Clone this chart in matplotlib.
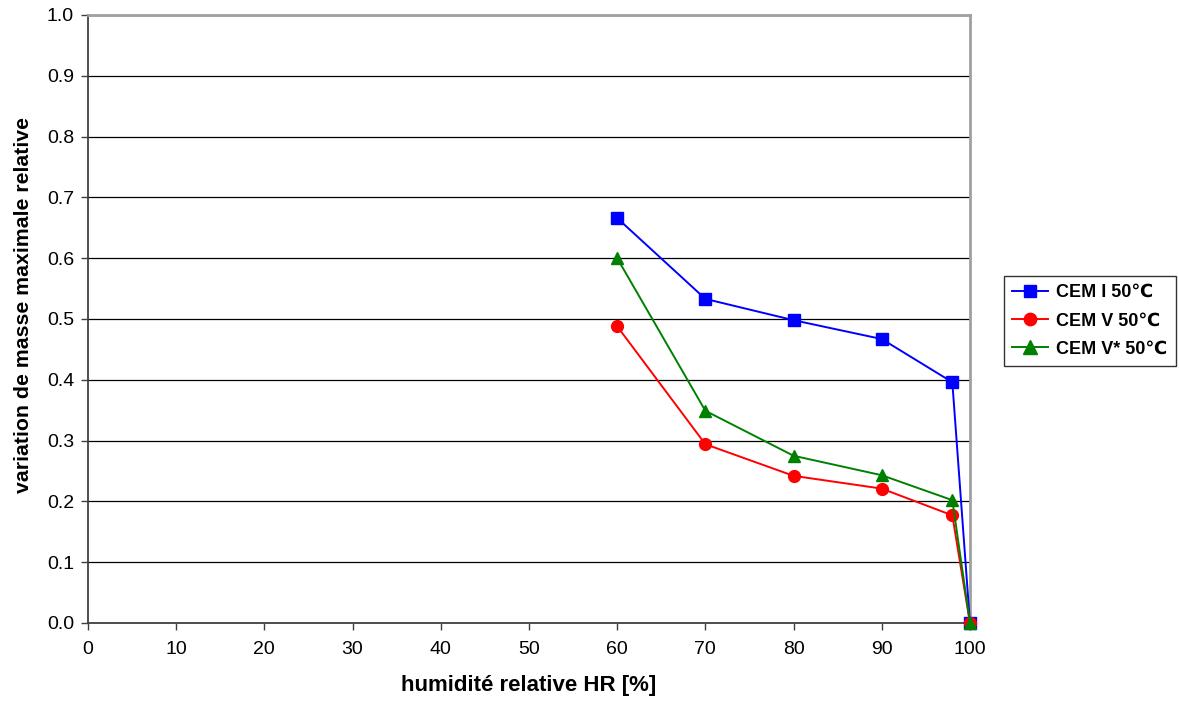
import matplotlib
matplotlib.use("Agg")
import matplotlib.pyplot as plt

plt.rcParams['font.family'] = ['Liberation Sans', 'DejaVu Sans']

# données
hr = [60, 70, 80, 90, 98, 100]
cem_i = [0.666, 0.533, 0.498, 0.467, 0.396, 0.0]
cem_v = [0.488, 0.294, 0.242, 0.221, 0.177, 0.0]
cem_v_star = [0.600, 0.349, 0.275, 0.243, 0.202, 0.0]
labels = ['CEM I 50\u2103', 'CEM V 50\u2103', 'CEM V* 50\u2103']

x_ticks = list(range(0, 101, 10))
y_ticks = [i / 10 for i in range(11)]

fig = plt.figure(figsize=(11.79, 7.06), dpi=100)
ax = fig.add_axes([0.0746, 0.1176, 0.7481, 0.8612])

ax.plot(hr, cem_i, color='blue', marker='s', markersize=8.5, linewidth=1.4, label=labels[0], zorder=3)
ax.plot(hr, cem_v, color='red', marker='o', markersize=8.5, linewidth=1.4, label=labels[1], zorder=3)
ax.plot(hr, cem_v_star, color='green', marker='^', markersize=9, linewidth=1.4, label=labels[2], zorder=3)

ax.set_xlim(0, 100)
ax.set_ylim(0, 1.0)
ax.set_xticks(x_ticks)
ax.set_yticks(y_ticks)
ax.set_yticklabels([f'{v:.1f}' for v in y_ticks])
ax.yaxis.grid(True, color='black', linewidth=0.9)
ax.set_axisbelow(True)

ax.tick_params(axis='both', direction='out', length=5, width=1, labelsize=14, colors='#404040', labelcolor='black')
ax.tick_params(axis='x', pad=8)
ax.tick_params(axis='y', pad=5)

for side in ['left', 'bottom']:
    ax.spines[side].set_color('#404040')
    ax.spines[side].set_linewidth(1.3)
for side in ['top', 'right']:
    ax.spines[side].set_color('#a0a0a0')
    ax.spines[side].set_linewidth(2)

for line in ax.get_lines():
    line.set_clip_on(False)

ax.set_xlabel('humidité relative HR [%]', fontsize=16, fontweight='bold', labelpad=12)
ax.set_ylabel('variation de masse maximale relative', fontsize=15.3, fontweight='bold')
ax.yaxis.set_label_coords(-0.0624, 0.523)

leg = ax.legend(loc='center left', bbox_to_anchor=(1.0385, 0.497),
                prop={'weight': 'bold', 'size': 13}, frameon=True, fancybox=False,
                edgecolor='black', borderpad=0.45, labelspacing=0.62, handlelength=2.0,
                handletextpad=0.45, borderaxespad=0, markerscale=1.05)
leg.get_frame().set_linewidth(1)

fig.savefig('out.png', dpi=100)
